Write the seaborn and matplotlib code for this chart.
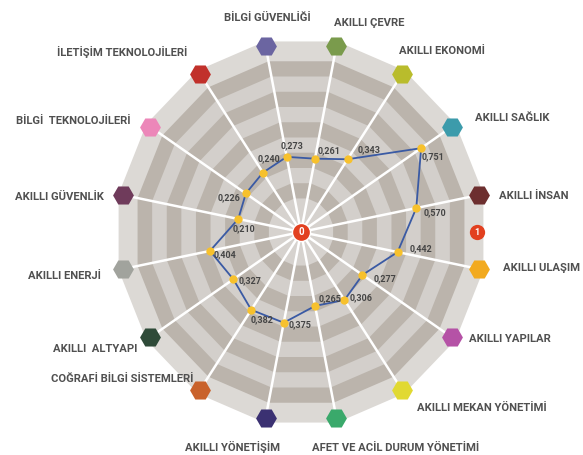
import numpy as np
import matplotlib
matplotlib.use("Agg")
import matplotlib.pyplot as plt
import seaborn as sns

# categories clockwise, starting just right of the top
categories = [
    "AKILLI ÇEVRE", "AKILLI EKONOMİ", "AKILLI SAĞLIK", "AKILLI İNSAN",
    "AKILLI ULAŞIM", "AKILLI YAPILAR", "AKILLI MEKAN YÖNETİMİ",
    "AFET VE ACİL DURUM YÖNETİMİ", "AKILLI YÖNETİŞİM",
    "COĞRAFİ BİLGİ SİSTEMLERİ", "AKILLI  ALTYAPI", "AKILLI ENERJİ",
    "AKILLI GÜVENLİK", "BİLGİ  TEKNOLOJİLERİ", "İLETİŞİM TEKNOLOJİLERİ",
    "BİLGİ GÜVENLİĞİ",
]
values = [0.261, 0.343, 0.751, 0.570, 0.442, 0.277, 0.306, 0.265,
          0.375, 0.382, 0.327, 0.404, 0.210, 0.226, 0.240, 0.273]
value_labels = ["0,261", "0,343", "0,751", "0,570", "0,442", "0,277", "0,306",
                "0,265", "0,375", "0,382", "0,327", "0,404", "0,210", "0,226",
                "0,240", "0,273"]
cat_colors = ["#7a9b4c", "#b9bc2c", "#3c9bab", "#6d2f2f", "#f2aa1f", "#b552a6",
              "#e1d932", "#3aa96b", "#3b3172", "#c9622b", "#2f4b39", "#a1a39d",
              "#6f3b5b", "#ec87b9", "#c1312b", "#6b65a1"]

# label offsets (pixels) relative to the points / hexagons
val_off = [(14, 8), (22, 10), (12, -9), (19, -5), (23, 3), (23, -4), (17, 2),
           (15, 7), (16, -2), (11, -10), (17, -1), (15, -4), (6, -10),
           (-17, -4), (6, 14), (5, 11)]
cat_off = [(33, 23), (40, 23), (60, 9), (55, -1), (62, 1), (58, -2), (80, -18),
           (59, -30), (-33, -29), (-78, 11), (-55, -12), (-59, -7), (-64, -2),
           (-77, 6), (-78, 22), (2, 28)]

ring_levels = [1.03, 0.9, 0.8, 0.7, 0.6, 0.5, 0.4, 0.3, 0.2, 0.1, 0.0]
ring_colors = ["#dcd9d5", "#bbb4ac", "#d3cfcb", "#bbb4ac", "#d3cfcb", "#bbb4ac",
               "#d3cfcb", "#bbb4ac", "#d3cfcb", "#bbb4ac", "#d6d2ce"]

sns.set_theme(style="white")
plt.rcParams["font.family"] = ["Roboto", "DejaVu Sans"]

r0 = -0.22
n = len(categories)
theta = np.deg2rad(11.25 + 22.5 * np.arange(n))
theta_closed = np.append(theta, theta[0])

fig = plt.figure(figsize=(5.83, 4.55), dpi=100)
ax = fig.add_axes([0.1973, 0.0631, 0.638, 0.854], projection="polar")
ax.set_aspect("auto")
ax.set_theta_zero_location("N")
ax.set_theta_direction(-1)
ax.set_ylim(r0, 1.03)
ax.grid(False)
ax.set_xticks([])
ax.set_yticks([])
ax.spines["polar"].set_visible(False)

# polygon bands, from the outside in
for lvl, col in zip(ring_levels, ring_colors):
    ax.fill(theta_closed, np.full(n + 1, lvl), color=col, lw=0, zorder=1)

# white spokes
for t in theta:
    ax.plot([t, t], [r0, 1.0], color="white", lw=1.8, zorder=2)

# hexagons and category names
for t, name, col, off in zip(theta, categories, cat_colors, cat_off):
    ax.plot(t, 1.0, marker="H", ms=15, color=col, mec="none", zorder=5,
            clip_on=False)
    ax.annotate(name, xy=(t, 1.0), xytext=off, textcoords="offset pixels",
                ha="center", va="center", fontsize=8.1, fontweight="bold",
                color="#505050", zorder=6, annotation_clip=False)

# data line
vals_closed = np.append(values, values[0])
ax.plot(theta_closed, vals_closed, color="#3a5aa4", lw=1.3, zorder=3)
ax.plot(theta, values, "o", ms=6, color="#f7c12d", mec="none", zorder=4)
for t, v, lab, off in zip(theta, values, value_labels, val_off):
    ax.annotate(lab, xy=(t, v), xytext=off, textcoords="offset pixels",
                ha="center", va="center", fontsize=6.5, fontweight="bold",
                color="#454545", zorder=6)

# scale markers 0 and 1
ax.plot(0, r0, "o", ms=13, color="#e2401f", mec="white", mew=1, zorder=7,
        clip_on=False)
ax.text(0, r0, "0", ha="center", va="center", fontsize=7, fontweight="bold",
        color="white", zorder=8)
ax.plot(np.pi / 2, 0.965, "o", ms=11, color="#e2401f", mec="none", zorder=7,
        clip_on=False)
ax.text(np.pi / 2, 0.965, "1", ha="center", va="center", fontsize=6.5,
        fontweight="bold", color="white", zorder=8)

fig.savefig("out.png", dpi=100, facecolor="white")
